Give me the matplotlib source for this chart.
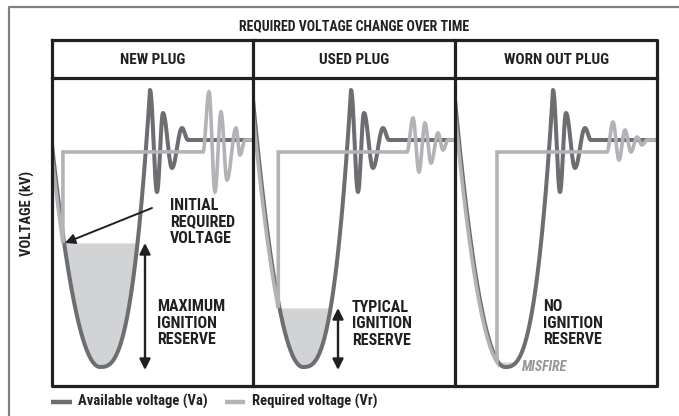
import numpy as np
import matplotlib
matplotlib.use("Agg")
import matplotlib.pyplot as plt

plt.rcParams['font.family'] = ['Roboto Condensed', 'DejaVu Sans']

# panels
plug_names = ['NEW PLUG', 'USED PLUG', 'WORN OUT PLUG']
reserve_text = ['MAXIMUM\nIGNITION\nRESERVE', 'TYPICAL\nIGNITION\nRESERVE', 'NO\nIGNITION\nRESERVE']

# available voltage (kV, drawn as negative swing) - main dip
dip_time = [48, 50, 50]          # time of the deepest point
dip_start = [-0.5, 4.0, 4.0]     # voltage at the left edge of each panel
dip_min = -22.7
first_peak_time = 98
first_peak_volt = 5.0

# ringing of the available voltage after the first peak
va_ring_time = [105, 111, 120, 130, 136]
va_ring_volt = [-5.2, 2.7, -2.8, 1.2, 0.0]

# required voltage: breakdown level, spark plateau and its ringing
vr_break = [-10.3, -16.8, -22.2]
vr_plateau = -1.2
vr_plateau_end = [151, 154, 152]
vr_ring_time = [
    [157, 163, 169, 175, 184, 188, 193],
    [160, 166, 172, 178, 185, 190, 195],
    [158, 164, 170, 176, 182, 187, 192],
]
vr_ring_volt = [
    [4.8, -5.2, 2.8, -4.0, 1.2, -1.5, 0.0],
    [2.2, -3.2, 1.7, -2.3, 0.7, -1.0, 0.0],
    [1.8, -2.0, 1.0, -1.2, 0.3, -0.5, 0.0],
]

DARK = '#6d6e71'
LIGHT = '#b1b3b6'
SHADE = '#d1d3d4'
INK = '#231f20'
P_LEFT, P_RIGHT = 2.0, 2.8
T_END = 202


def dip_curve(t, i):
    t = np.asarray(t, dtype=float)
    tm = dip_time[i]
    left = dip_min + (dip_start[i] - dip_min) * np.clip((tm - t) / tm, 0, None) ** P_LEFT
    right = dip_min + (first_peak_volt - dip_min) * np.clip((t - tm) / (first_peak_time - tm), 0, None) ** P_RIGHT
    return np.where(t <= tm, left, right)


def ringing(t0, v0, times, volts, n=40):
    ts, vs = [], []
    pts_t = [t0] + list(times)
    pts_v = [v0] + list(volts)
    for a in range(len(pts_t) - 1):
        s = np.linspace(0, 1, n)
        ts.append(pts_t[a] + (pts_t[a + 1] - pts_t[a]) * s)
        vs.append(pts_v[a] + (pts_v[a + 1] - pts_v[a]) * (1 - np.cos(np.pi * s)) / 2)
    return np.concatenate(ts), np.concatenate(vs)


fig = plt.figure(figsize=(6.79, 4.16), dpi=100)

panel_left = [52, 253, 455]
panel_right = [253, 455, 657]
box_top, head_bot, box_bot = 40, 78, 386
W, H = 679, 416

shift = 1.2
for i in range(3):
    ax = fig.add_axes([panel_left[i] / W, (H - box_bot) / H,
                       (panel_right[i] - panel_left[i]) / W, (box_bot - head_bot) / H])
    ax.set_xlim(0, panel_right[i] - panel_left[i])
    ax.set_ylim((140 - box_bot) / 10, (140 - head_bot) / 10)
    ax.axis('off')

    # available voltage
    t1 = np.linspace(-5, first_peak_time, 400)
    v1 = dip_curve(t1, i)
    t2, v2 = ringing(first_peak_time, first_peak_volt, va_ring_time, va_ring_volt)
    ta = np.concatenate([t1, t2, [T_END]])
    va = np.concatenate([v1, v2, [0.0]])

    # where the required voltage crosses the breakdown level
    s_l = ((vr_break[i] - dip_min) / (dip_start[i] - dip_min)) ** (1 / P_LEFT)
    t_dark_l = dip_time[i] * (1 - s_l)
    s_r = ((vr_break[i] - dip_min) / (first_peak_volt - dip_min)) ** (1 / P_RIGHT)
    t_dark_r = dip_time[i] + s_r * (first_peak_time - dip_time[i])
    t_brk = t_dark_l - shift

    # ignition reserve
    tf = np.linspace(t_brk, t_dark_r, 200)
    ax.fill_between(tf, np.minimum(dip_curve(tf, i), vr_break[i]), vr_break[i],
                    color=SHADE, lw=0, zorder=1)

    ax.plot(ta, va, color=DARK, lw=2.9, zorder=2, solid_capstyle='butt')

    # required voltage
    tp = np.linspace(-5, t_brk, 200)
    vp = dip_curve(tp + shift, i)
    tr, vrr = ringing(vr_plateau_end[i], vr_plateau, vr_ring_time[i], vr_ring_volt[i])
    tl = np.concatenate([tp, [t_brk, t_brk, vr_plateau_end[i]], tr, [T_END]])
    vl = np.concatenate([vp, [vr_break[i], vr_plateau, vr_plateau], vrr, [0.0]])
    ax.plot(tl, vl, color=LIGHT, lw=2.6, zorder=3, solid_joinstyle='miter')

    txt = dict(fontsize=11.5, fontweight='bold', color=INK, va='center', ha='left',
               linespacing=1.15)
    arrow2 = dict(arrowstyle='<|-|>', color=INK, lw=1.7, mutation_scale=16,
                  shrinkA=0, shrinkB=0)
    if i == 0:
        ax.text(118, -8.2, 'INITIAL\nREQUIRED\nVOLTAGE', **txt)
        ax.annotate('', xy=(t_brk + 2, vr_break[i]), xytext=(100, -6.8),
                    arrowprops=dict(arrowstyle='-|>', color=INK, lw=1.4,
                                    mutation_scale=15, shrinkA=0, shrinkB=0))
        ax.annotate('', xy=(93, dip_min - 0.3), xytext=(93, vr_break[i]),
                    arrowprops=arrow2)
        ax.text(105, -18.3, reserve_text[i], **txt)
    elif i == 1:
        ax.annotate('', xy=(85, dip_min - 0.3), xytext=(85, vr_break[i]),
                    arrowprops=arrow2)
        ax.text(99, -18.4, reserve_text[i], **txt)
    else:
        ax.text(88, -18.3, reserve_text[i], **txt)
        ax.text(67, dip_min, 'MISFIRE', fontsize=10, fontweight='bold',
                style='italic', color='#939598', va='center', ha='left')

# frame, headers and legend
ov = fig.add_axes([0, 0, 1, 1], zorder=5)
ov.set_xlim(0, W)
ov.set_ylim(H, 0)
ov.axis('off')
ov.patch.set_alpha(0)

ov.plot([9, 9, W + 2], [H + 2, 7, 7], color='#808080', lw=1.6)

lk = dict(color=INK, lw=2.3, solid_capstyle='projecting')
ov.plot([52, 657, 657, 52, 52], [box_top, box_top, box_bot, box_bot, box_top], **lk)
ov.plot([52, 657], [head_bot, head_bot], **lk)
for x in panel_right[:2]:
    ov.plot([x, x], [box_top, box_bot], **lk)

ov.text((52 + 657) / 2, 26, 'REQUIRED VOLTAGE CHANGE OVER TIME', fontsize=10,
        fontweight='bold', color=INK, ha='center', va='center')
for i, name in enumerate(plug_names):
    ov.text((panel_left[i] + panel_right[i]) / 2, 59.5, name, fontsize=11,
            fontweight='bold', color=INK, ha='center', va='center')

ov.text(27, 213, 'VOLTAGE (kV)', fontsize=10.5, fontweight='bold', color=INK,
        rotation=90, ha='center', va='center')

ov.plot([51, 72], [402, 402], color=DARK, lw=3.2, solid_capstyle='butt')
ov.text(78, 401, 'Available voltage (Va)', fontsize=10.5, fontweight='bold',
        color=INK, ha='left', va='center')
ov.plot([225, 245], [402, 402], color=LIGHT, lw=3.2, solid_capstyle='butt')
ov.text(252, 401, 'Required voltage (Vr)', fontsize=10.5, fontweight='bold',
        color=INK, ha='left', va='center')

fig.savefig('out.png', dpi=100, facecolor='white')
